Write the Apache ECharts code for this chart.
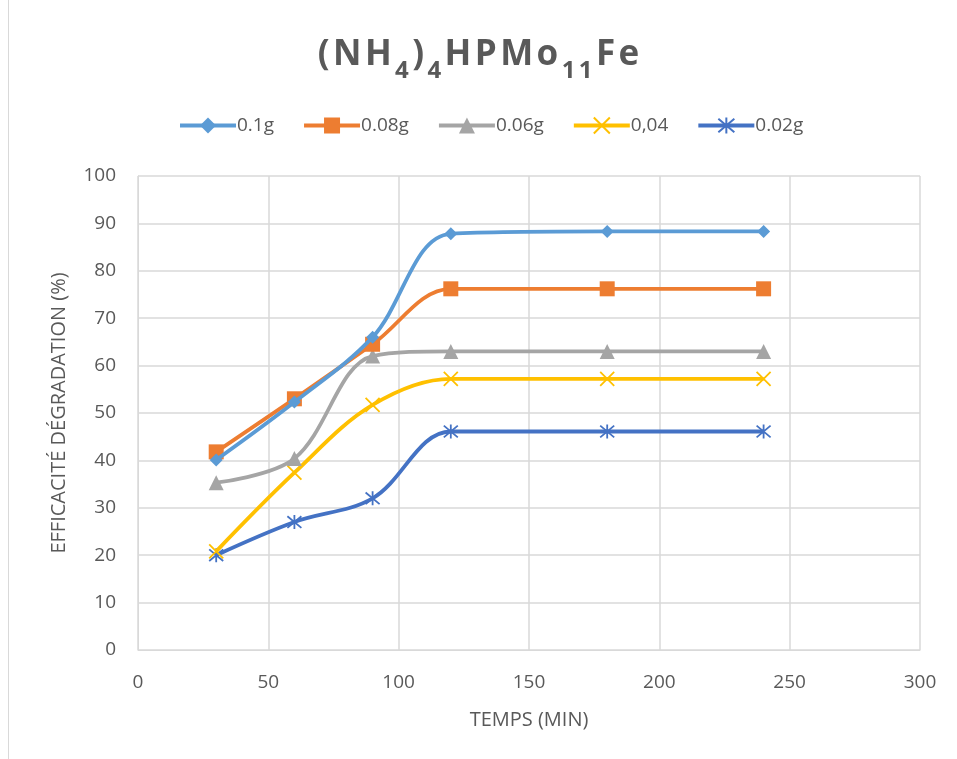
<!DOCTYPE html>
<html>
<head>
<meta charset="utf-8">
<script src="https://cdn.jsdelivr.net/npm/echarts@6/dist/echarts.min.js"></script>
<style>
  html, body { margin: 0; padding: 0; background: #fff; }
  #chart { width: 957px; height: 759px; }
  #frame { position: absolute; left: 8px; top: -2px; width: 960px; height: 760px; border: 1px solid #d9d9d9; pointer-events: none; }
</style>
</head>
<body>
<div id="chart"></div>
<div id="frame"></div>
<script>
// temps (min)
const times = [30, 60, 90, 120, 180, 240];
const seriesNames = ["0.1g", "0.08g", "0.06g", "0,04", "0.02g"];
const s01 = [40.1, 52.3, 66.0, 87.8, 88.3, 88.3];
const s008 = [41.8, 53.0, 64.5, 76.2, 76.2, 76.2];
const s006 = [35.3, 40.4, 62.0, 63.0, 63.0, 63.0];
const s004 = [20.8, 37.4, 51.7, 57.2, 57.2, 57.2];
const s002 = [20.0, 27.0, 32.0, 46.1, 46.1, 46.1];
const colors = ["#5B9BD5", "#ED7D31", "#A5A5A5", "#FFC000", "#4472C4"];

// titre : [texte, indice ?]
const titleParts = [["(", 0], ["N", 0], ["H", 0], ["4", 1], [")", 0], ["4", 1], ["H", 0], ["P", 0], ["M", 0], ["o", 0], ["1", 1], ["1", 1], ["F", 0], ["e", 0]];

const xPath = "path://M0,0L10,10M10,0L0,10";
const starPath = "path://M0,0L10,10M10,0L0,10M5,-1L5,11";
const symbols = ["diamond", "rect", "triangle", xPath, starPath];
const symSizes = [13, 15, 15, 14, 14];
const allData = [s01, s008, s006, s004, s002];

const myChart = echarts.init(document.getElementById("chart"));

const series = allData.map((vals, i) => {
  const line = symbols[i].startsWith("path://");
  return {
    name: seriesNames[i],
    type: "line",
    smooth: 0.35,
    data: times.map((t, k) => [t, vals[k]]),
    symbol: symbols[i],
    symbolSize: symSizes[i],
    lineStyle: { color: colors[i], width: 3.8 },
    itemStyle: line
      ? { color: colors[i], borderColor: colors[i], borderWidth: 1.8 }
      : { color: colors[i] },
    z: 10 - i
  };
});

const titleText = titleParts.map(p => (p[1] ? "{s|" : "{b|") + p[0] + "}").join("");

const option = {
  animation: false,
  title: {
    text: titleText,
    left: "center",
    top: 33,
    textStyle: {
      rich: {
        b: { fontFamily: "Open Sans", fontWeight: "bold", fontSize: 35, color: "#595959", verticalAlign: "bottom", padding: [0, 1.7, 0, 1.7] },
        s: { fontFamily: "Open Sans", fontWeight: "bold", fontSize: 24, color: "#595959", verticalAlign: "bottom", padding: [0, 1.7, -10, 1.7] }
      }
    }
  },
  legend: {
    top: 111,
    left: 173,
    itemWidth: 56,
    itemHeight: 20,
    itemGap: 28,
    lineStyle: { width: 4 },
    textStyle: { fontFamily: "Open Sans", fontSize: 19, color: "#595959", padding: [0, 0, 0, -4] },
    data: seriesNames
  },
  grid: { left: 138, right: 37, top: 176, bottom: 109 },
  xAxis: {
    type: "value",
    min: 0,
    max: 300,
    interval: 50,
    name: "TEMPS (MIN)",
    nameLocation: "middle",
    nameGap: 60,
    nameTextStyle: { fontFamily: "Open Sans", fontSize: 20, color: "#595959" },
    axisLine: { show: true, lineStyle: { color: "#d9d9d9" } },
    axisTick: { show: false },
    axisLabel: { fontFamily: "Open Sans", fontSize: 19, color: "#595959", margin: 23 },
    splitLine: { show: true, lineStyle: { color: "#d9d9d9", width: 1.5 } }
  },
  yAxis: {
    type: "value",
    min: 0,
    max: 100,
    interval: 10,
    name: "EFFICACITÉ DÉGRADATION (%)",
    nameLocation: "middle",
    nameGap: 69,
    nameTextStyle: { fontFamily: "Open Sans", fontSize: 20, color: "#595959" },
    axisLine: { show: true, lineStyle: { color: "#d9d9d9" } },
    axisTick: { show: false },
    axisLabel: { fontFamily: "Open Sans", fontSize: 19, color: "#595959", margin: 22 },
    splitLine: { show: true, lineStyle: { color: "#d9d9d9", width: 1.5 } }
  },
  series: series
};

myChart.setOption(option);
</script>
</body>
</html>
